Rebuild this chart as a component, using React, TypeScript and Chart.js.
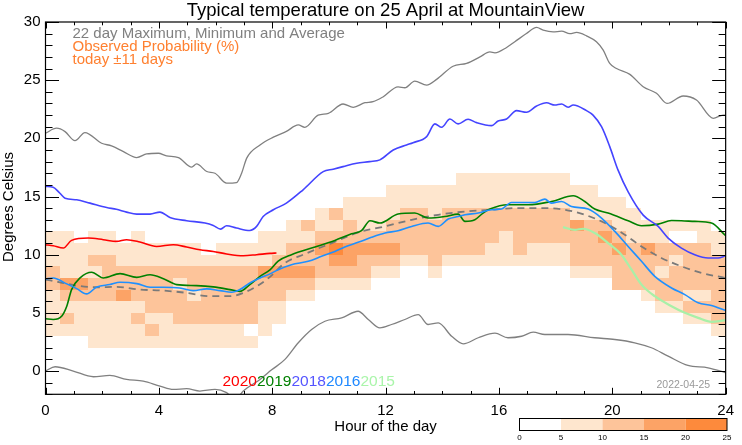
import React, { useEffect, useRef } from 'react';
import { Chart, registerables } from 'chart.js';

Chart.register(...registerables);

type Pt = [number, number];

// ---- data (hour of day, degrees Celsius) ----
const maxTemp: Pt[] = [
  [0, 20.44], [0.39, 20.87], [0.69, 20.58], [1.04, 19.8], [1.39, 20.5], [1.98, 19.58], [2.33, 19.35],
  [2.75, 18.86], [3.22, 18.35], [3.57, 18.66], [3.98, 18.72], [4.27, 18.49], [4.69, 18.35], [5.16, 17.52],
  [5.33, 17.8], [5.69, 17.15], [5.98, 17.0], [6.39, 16.15], [6.74, 16.2], [6.92, 17.0], [7.1, 18.3],
  [7.57, 19.43], [8.04, 20.1], [8.5, 20.6], [8.92, 21.15], [9.15, 20.95], [9.62, 22.0], [9.98, 22.15],
  [10.5, 22.95], [10.86, 22.67], [11.27, 23.06], [11.56, 23.15], [11.92, 23.58], [12.44, 24.43],
  [12.68, 24.35], [13.03, 24.92], [13.45, 24.58], [13.8, 25.07], [14.38, 26.2], [14.86, 26.44],
  [15.33, 27.0], [15.68, 27.43], [15.86, 27.35], [16.27, 27.81], [16.56, 28.3], [16.97, 29.01],
  [17.33, 29.53], [17.56, 29.3], [17.91, 29.15], [18.21, 29.21], [18.5, 29.0], [18.74, 29.1],
  [19.09, 28.81], [19.44, 28.3], [19.68, 27.58], [19.91, 26.44], [20.15, 26.0], [20.62, 25.5],
  [21.09, 24.43], [21.56, 23.87], [21.93, 23.0], [22.5, 23.64], [22.97, 23.29], [23.56, 21.72],
  [23.91, 22.0], [24, 22.0],
];

const minTemp: Pt[] = [
  [0, 0.0], [0.34, 0.37], [0.98, 0.0], [1.69, -0.49], [2.27, -0.38], [2.86, -0.72], [3.45, -0.87],
  [4.04, -1.29], [4.51, -1.58], [4.98, -1.52], [5.45, -1.72], [5.98, -1.58], [6.39, -1.86], [6.62, -2.3],
  [6.8, -2.2], [6.98, -1.72], [7.57, -0.72], [7.98, 0.1], [8.45, 1.0], [8.92, 2.43], [9.39, 3.57],
  [9.86, 4.28], [10.45, 4.57], [11.03, 5.14], [11.39, 4.43], [11.8, 3.71], [12.21, 4.0], [12.68, 4.43],
  [13.15, 4.85], [13.5, 4.0], [13.86, 4.14], [14.33, 2.99], [14.74, 2.34], [15.27, 2.86], [15.86, 3.25],
  [16.32, 2.86], [16.8, 2.99], [17.21, 3.34], [17.62, 3.14], [18.44, 3.14], [19.38, 2.86], [20.09, 2.71],
  [20.79, 2.43], [21.38, 2.0], [21.97, 1.28], [22.67, 0.48], [23.38, 0.28], [24, -0.15],
];

const avgTemp: Pt[] = [
  [0, 7.86], [0.51, 7.63], [1.1, 7.34], [1.81, 7.2], [2.51, 7.23], [3.33, 7.0], [4.16, 6.91], [4.98, 6.72],
  [5.8, 6.43], [6.51, 6.43], [6.98, 6.72], [7.45, 7.28], [7.92, 8.09], [8.45, 9.29], [9.15, 10.06],
  [10.1, 11.0], [11.03, 11.91], [11.98, 12.43], [12.92, 13.0], [13.86, 13.43], [14.8, 13.71],
  [15.74, 13.86], [16.56, 14.0], [17.62, 14.0], [18.32, 13.86], [19.03, 13.43], [19.74, 12.72],
  [20.44, 11.72], [21.03, 10.71], [21.73, 9.72], [22.44, 9.0], [23.15, 8.43], [24, 8.0],
];

const temp2020: Pt[] = [
  [0, 10.86], [0.27, 10.77], [0.63, 10.57], [0.92, 11.23], [1.51, 11.43], [2.04, 11.29], [2.51, 11.14],
  [2.86, 11.29], [3.33, 11.09], [3.92, 10.71], [4.51, 10.86], [4.98, 10.66], [5.45, 10.43], [5.92, 10.28],
  [6.39, 10.06], [6.98, 9.91], [7.45, 10.0], [7.92, 10.11], [8.15, 10.14],
];

const temp2019: Pt[] = [
  [0, 4.49], [0.27, 4.43], [0.57, 4.71], [0.75, 5.57], [0.92, 7.0], [1.22, 8.0], [1.63, 8.49], [2.04, 8.0],
  [2.63, 8.37], [3.22, 8.05], [3.69, 8.28], [4.16, 7.94], [4.63, 7.43], [5.33, 7.34], [5.92, 7.23],
  [6.51, 7.0], [6.86, 6.85], [7.21, 7.43], [7.57, 8.14], [7.92, 8.7], [8.21, 9.45], [8.68, 10.0],
  [9.51, 10.66], [10.21, 11.23], [10.8, 11.8], [11.15, 12.06], [11.45, 12.92], [11.8, 12.72],
  [12.44, 13.49], [13.03, 13.58], [13.5, 13.15], [14.09, 13.28], [14.56, 13.49], [14.8, 12.86],
  [15.15, 13.0], [15.44, 13.58], [15.68, 13.92], [16.32, 14.29], [17.03, 14.29], [17.85, 14.57],
  [18.62, 15.06], [19.03, 14.57], [19.38, 13.92], [19.85, 13.58], [20.56, 12.92], [21.03, 12.49],
  [21.62, 12.63], [22.09, 12.94], [22.44, 12.92], [22.91, 12.86], [23.5, 12.72], [24, 11.63],
];

const temp2018: Pt[] = [
  [0, 15.86], [0.27, 15.8], [0.5, 15.3], [0.69, 14.86], [1.1, 14.72], [1.57, 14.43], [2.16, 14.06],
  [2.5, 13.9], [2.86, 13.66], [3.22, 13.49], [3.69, 13.49], [4.04, 13.66], [4.39, 13.2], [4.98, 12.92],
  [5.63, 12.72], [5.92, 12.51], [6.18, 12.2], [6.39, 12.49], [6.74, 12.29], [7.21, 12.08], [7.45, 12.43],
  [7.68, 13.28], [8.04, 13.86], [8.5, 14.43], [9.09, 15.58], [9.8, 17.14], [10.15, 17.35], [10.5, 17.57],
  [10.98, 17.86], [11.44, 18.0], [11.8, 18.15], [12.27, 19.0], [12.74, 19.43], [12.97, 19.63],
  [13.45, 20.15], [13.74, 21.24], [13.98, 20.95], [14.27, 21.66], [14.56, 21.24], [14.91, 21.64],
  [15.21, 21.35], [15.74, 21.09], [15.97, 21.49], [16.27, 21.66], [16.62, 22.38], [16.97, 22.24],
  [17.33, 22.78], [17.68, 23.06], [17.97, 22.86], [18.21, 22.95], [18.44, 22.67], [18.62, 22.86],
  [19.09, 22.38], [19.32, 22.0], [19.62, 21.0], [19.91, 19.29], [20.2, 17.29], [20.56, 15.4],
  [21.09, 13.4], [21.62, 12.43], [21.97, 11.43], [22.44, 10.57], [22.91, 10.0], [23.38, 9.72],
  [23.73, 9.72], [24, 9.91],
];

const temp2016: Pt[] = [
  [0, 7.92], [0.27, 8.0], [0.75, 7.49], [1.1, 7.08], [1.45, 6.63], [1.81, 7.23], [2.27, 7.43], [2.63, 7.63],
  [3.22, 7.51], [3.69, 7.2], [4.16, 7.2], [4.74, 7.14], [5.21, 6.91], [5.69, 7.06], [6.16, 6.91],
  [6.57, 6.77], [6.86, 7.0], [7.21, 7.57], [7.57, 8.0], [7.92, 8.35], [8.21, 8.71], [8.68, 9.14],
  [9.27, 9.43], [9.74, 9.86], [10.21, 10.28], [10.56, 10.66], [11.03, 11.06], [11.5, 11.49],
  [11.98, 11.86], [12.44, 12.06], [12.92, 12.43], [13.5, 12.72], [13.86, 12.43], [14.21, 13.06],
  [14.56, 13.28], [14.8, 13.43], [15.27, 13.58], [15.74, 13.86], [16.09, 13.92], [16.44, 14.49],
  [16.8, 14.49], [17.27, 14.49], [17.62, 14.78], [17.85, 14.43], [18.21, 14.57], [18.56, 14.14],
  [19.15, 13.92], [19.62, 13.15], [20.09, 12.0], [20.56, 10.71], [21.03, 9.43], [21.5, 8.14],
  [22.09, 7.14], [22.56, 6.57], [23.03, 5.86], [23.5, 5.63], [24, 5.2],
];

const temp2015: Pt[] = [
  [18.26, 12.37], [18.68, 12.14], [18.97, 12.23], [19.38, 11.86], [19.85, 11.0], [20.32, 10.0],
  [20.68, 8.71], [21.03, 7.43], [21.5, 6.43], [22.09, 5.57], [22.56, 5.0], [23.03, 4.57], [23.5, 4.23],
  [24, 4.37],
];

const yearNames = ['2020', '2019', '2018', '2016', '2015'];
const yearSeries = [temp2020, temp2019, temp2018, temp2016, temp2015];
const yearLineColors = ['#ff0000', '#008000', '#4444ff', '#1e90ff', '#a8f0a8'];
const yearTextColors = ['#ff0000', '#008000', '#5555ff', '#1e88ff', '#aaf5aa'];

const xTicks = [0, 4, 8, 12, 16, 20, 24];
const yTicks = [0, 5, 10, 15, 20, 25, 30];

// Observed probability grid: one row per 1-degree band (lower edge in probRowTemps),
// one character per half-hour column; digit = probability class (0:<5%,1:5-10,2:10-15,3:15-20,4:20-25)
const probColStep = 0.5;
const probRowTemps = [16, 15, 14, 13, 12, 11, 10, 9, 8, 7, 6, 5, 4, 3, 2];
const probRows = [
  '000000000000000000000000000001111111100000000000',
  '000000000000000000000000111111111111111000000000',
  '000000000000000000000111111111111111111110000000',
  '000000000000000000012111122122222222211111000000',
  '000000000000000001211211222222222222232211111110',
  '110110100000000111122222222222221222222321110011',
  '111111111110111112234333322222211211122232322221',
  '111221111111111122223322211211111111122222221222',
  '211122222222222333322221100100000000011122212222',
  '233222222122222222211110000000000000000022222222',
  '122223222212222221100000000000000000000000122112',
  '111111122222222110000000000000000000000000011222',
  '121111211222222110000000000000000000000000000112',
  '111111121111110100000000000000000000000000000001',
  '000111111111111000000000000000000000000000000000',
];
const probBins = [0, 5, 10, 15, 20, 25];
const probColors = ['#ffffff', '#fee6ce', '#fdc49a', '#fca366', '#fd8a3c'];

const FONT = '"Liberation Sans", Arial, Helvetica, sans-serif';

const heatPlugin = {
  id: 'probHeat',
  beforeDatasetsDraw(chart: any) {
    const { ctx, chartArea: a } = chart;
    const xs = chart.scales.x;
    const ys = chart.scales.y;
    ctx.save();
    ctx.beginPath();
    ctx.rect(a.left, a.top, a.right - a.left, a.bottom - a.top);
    ctx.clip();
    probRows.forEach((row, r) => {
      const t0 = probRowTemps[r];
      const yTop = Math.round(ys.getPixelForValue(t0 + 1));
      const yBot = Math.round(ys.getPixelForValue(t0));
      for (let c = 0; c < row.length; c++) {
        const lv = Number(row[c]);
        if (!lv) continue;
        const x0 = Math.round(xs.getPixelForValue(c * probColStep));
        const x1 = Math.round(xs.getPixelForValue((c + 1) * probColStep));
        ctx.fillStyle = probColors[lv];
        ctx.fillRect(x0, yTop, x1 - x0, yBot - yTop);
      }
    });
    ctx.restore();
  },
};

const decorPlugin = {
  id: 'decor',
  afterDraw(chart: any) {
    const { ctx, chartArea: a } = chart;
    const xs = chart.scales.x;
    const ys = chart.scales.y;
    ctx.save();
    // frame
    ctx.strokeStyle = '#000';
    ctx.lineWidth = 1.2;
    ctx.strokeRect(a.left, a.top, a.right - a.left, a.bottom - a.top);
    // ticks
    ctx.lineWidth = 1;
    ctx.beginPath();
    for (let v = Math.ceil(ys.min); v <= ys.max; v++) {
      const p = Math.round(ys.getPixelForValue(v)) + 0.5;
      const len = v % 5 === 0 ? 13.5 : 7;
      ctx.moveTo(a.left, p); ctx.lineTo(a.left + len, p);
      ctx.moveTo(a.right, p); ctx.lineTo(a.right - len, p);
    }
    for (let v = xs.min; v <= xs.max; v++) {
      const p = Math.round(xs.getPixelForValue(v)) + 0.5;
      const len = v % 4 === 0 ? 6.5 : 3.3;
      ctx.moveTo(p, a.bottom); ctx.lineTo(p, a.bottom - len);
      ctx.moveTo(p, a.top); ctx.lineTo(p, a.top + len);
    }
    ctx.stroke();

    const cx = (a.left + a.right) / 2;
    // title
    ctx.fillStyle = '#000';
    ctx.textAlign = 'center';
    ctx.textBaseline = 'alphabetic';
    ctx.font = `18.5px ${FONT}`;
    ctx.fillText('Typical temperature on 25 April at MountainView', cx, 15.5);
    // x axis title
    ctx.font = `15px ${FONT}`;
    ctx.fillText('Hour of the day', cx, 431);
    // y axis title
    ctx.save();
    ctx.translate(12.5, 207);
    ctx.rotate(-Math.PI / 2);
    ctx.fillText('Degrees Celsius', 0, 0);
    ctx.restore();

    // legend text
    ctx.textAlign = 'left';
    ctx.font = `15px ${FONT}`;
    ctx.fillStyle = '#808080';
    ctx.fillText('22 day Maximum, Minimum and Average', 72.5, 37.5);
    ctx.fillStyle = '#ff8030';
    ctx.fillText('Observed Probability (%)', 72.5, 51);
    ctx.fillText('today \u00b111 days', 72.5, 64);

    // year labels
    ctx.font = `15.5px ${FONT}`;
    let xp = 222.5;
    yearNames.forEach((n, i) => {
      ctx.fillStyle = yearTextColors[i];
      ctx.fillText(n, xp, 386);
      xp += ctx.measureText(n).width;
    });

    // date stamp
    ctx.fillStyle = '#999999';
    ctx.font = `10.5px ${FONT}`;
    ctx.fillText('2022-04-25', 656.5, 388);

    // colour bar
    const bx0 = 519.5, bx1 = 727, by0 = 418.5, by1 = 430.5;
    const span = probBins[probBins.length - 1] - probBins[0];
    for (let i = 0; i < probColors.length; i++) {
      const x0 = bx0 + ((probBins[i] - probBins[0]) / span) * (bx1 - bx0);
      const x1 = bx0 + ((probBins[i + 1] - probBins[0]) / span) * (bx1 - bx0);
      ctx.fillStyle = probColors[i];
      ctx.fillRect(x0, by0, x1 - x0, by1 - by0);
    }
    ctx.strokeStyle = '#000';
    ctx.lineWidth = 1;
    ctx.strokeRect(bx0, by0, bx1 - bx0, by1 - by0);
    ctx.fillStyle = '#000';
    ctx.textAlign = 'center';
    ctx.font = `8px ${FONT}`;
    probBins.forEach((b) => {
      const x = bx0 + ((b - probBins[0]) / span) * (bx1 - bx0);
      ctx.fillText(String(b), x, 440);
    });
    ctx.restore();
  },
};

const toXY = (pts: Pt[]) => pts.map(([x, y]) => ({ x, y }));

export default function App() {
  const ref = useRef<HTMLCanvasElement | null>(null);

  useEffect(() => {
    document.body.style.margin = '0';
    const canvas = ref.current;
    if (!canvas) return;
    Chart.defaults.font.family = FONT;

    const base = {
      pointRadius: 0,
      fill: false,
      cubicInterpolationMode: 'monotone' as const,
      borderJoinStyle: 'round' as const,
    };
    const yearSets = yearSeries
      .map((s, i) => ({
        ...base,
        label: yearNames[i],
        data: toXY(s),
        borderColor: yearLineColors[i],
        borderWidth: i === 4 ? 2.2 : 1.6,
      }))
      .reverse();

    const chart = new Chart(canvas, {
      type: 'line',
      data: {
        datasets: [
          ...yearSets,
          { ...base, label: 'Average', data: toXY(avgTemp), borderColor: '#7a7a7a', borderWidth: 1.8, borderDash: [7, 5] },
          { ...base, label: 'Maximum', data: toXY(maxTemp), borderColor: '#808080', borderWidth: 1.3 },
          { ...base, label: 'Minimum', data: toXY(minTemp), borderColor: '#808080', borderWidth: 1.3 },
        ],
      },
      options: {
        responsive: false,
        animation: false,
        events: [],
        layout: { padding: { left: 0, right: 15, top: 22, bottom: 0 } },
        plugins: { legend: { display: false }, tooltip: { enabled: false }, title: { display: false } },
        scales: {
          x: {
            type: 'linear',
            min: 0,
            max: 24,
            grid: { display: false, drawTicks: false },
            border: { display: false },
            afterFit: (s: any) => { s.height = 50.7; },
            afterBuildTicks: (s: any) => { s.ticks = xTicks.map((v) => ({ value: v })); },
            ticks: { autoSkip: false, maxRotation: 0, padding: 8, color: '#000', font: { size: 15, family: FONT } },
          },
          y: {
            type: 'linear',
            min: -2,
            max: 30,
            grid: { display: false, drawTicks: false },
            border: { display: false },
            afterFit: (s: any) => { s.width = 45.5; },
            afterBuildTicks: (s: any) => { s.ticks = yTicks.map((v) => ({ value: v })); },
            ticks: { autoSkip: false, padding: 5, color: '#000', font: { size: 15, family: FONT } },
          },
        },
      },
      plugins: [heatPlugin, decorPlugin],
    });
    return () => chart.destroy();
  }, []);

  return (
    <div style={{ position: 'absolute', left: 0, top: 0, width: 742, height: 445, background: '#fff' }}>
      <canvas ref={ref} width={742} height={445} style={{ display: 'block' }} />
    </div>
  );
}
